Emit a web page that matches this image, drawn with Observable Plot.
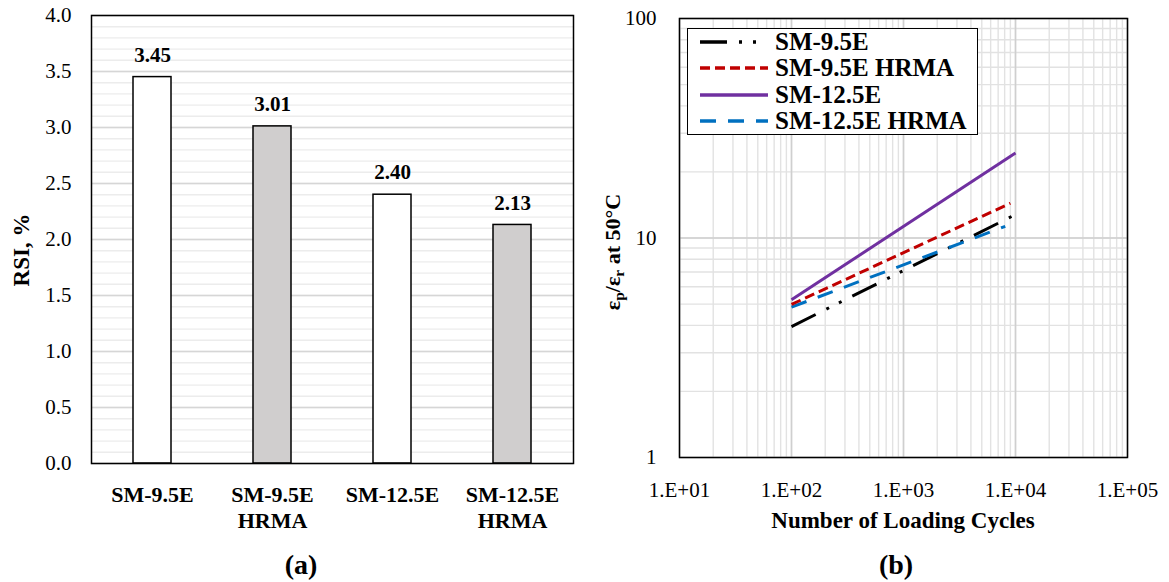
<!DOCTYPE html>
<html>
<head>
<meta charset="utf-8">
<script src="https://cdn.jsdelivr.net/npm/d3@7"></script>
<script src="https://cdn.jsdelivr.net/npm/@observablehq/plot@0.6"></script>
<style>
  body { margin: 0; background: #fff; font-family: "Liberation Serif", "Times New Roman", serif; }
  #wrap { position: relative; width: 1169px; height: 582px; overflow: hidden; background: #fff; }
  .abs { position: absolute; }
  .lbl { position: absolute; font-weight: bold; color: #000; white-space: nowrap; transform: translate(-50%, -50%); }
  .rot { transform: translate(-50%, -50%) rotate(-90deg); }
  #legend { position: absolute; left: 687px; top: 28px; width: 289px; height: 105px; border: 1.5px solid #000; background: #fff; }
  .row { position: absolute; left: 0; height: 26px; width: 289px; }
  .row svg { position: absolute; left: 12px; top: 0; }
  .row span { position: absolute; left: 87px; top: 0; line-height: 26px; font-size: 25px; font-weight: bold; color: #000; white-space: nowrap; }
  sub { font-size: 0.7em; vertical-align: -0.25em; line-height: 0; }
</style>
</head>
<body>
<div id="wrap"></div>
<script>
// ---------- data: panel (a) ----------
const categories = ["SM-9.5E", "SM-9.5E HRMA", "SM-12.5E", "SM-12.5E HRMA"];
const rsiValues = [3.45, 3.01, 2.40, 2.13];
const rsiTicks = [0, 0.5, 1.0, 1.5, 2.0, 2.5, 3.0, 3.5, 4.0];

// ---------- data: panel (b) ----------
const seriesNames = ["SM-9.5E", "SM-9.5E HRMA", "SM-12.5E", "SM-12.5E HRMA"];
const cyclesStart = [100, 100, 100, 100];
const cyclesEnd = [9600, 9000, 10000, 8100];
const ratioStart = [3.95, 4.98, 5.23, 4.84];
const ratioEnd = [12.66, 14.4, 24.4, 11.3];
const cycleTicks = [10, 100, 1000, 10000, 100000];
const ratioTicks = [1, 10, 100];

// ---------- styles ----------
const seriesStyle = {
  "SM-9.5E": { stroke: "#000000", dash: "27 12 3 11 3 12" },
  "SM-9.5E HRMA": { stroke: "#c00000", dash: "10 5" },
  "SM-12.5E": { stroke: "#7030a0", dash: null },
  "SM-12.5E HRMA": { stroke: "#0070c0", dash: "16 12" }
};
const font = "Liberation Serif";
const wrap = document.getElementById("wrap");

// ---------- panel (a) ----------
const barData = categories.map((c, i) => ({ cat: c, v: rsiValues[i] }));
const minorY = d3.range(0, 41).map(i => i / 10);

const left = Plot.plot({
  width: 580, height: 540,
  marginLeft: 91, marginRight: 7, marginTop: 15, marginBottom: 77,
  style: { fontFamily: font, fontSize: "21px", color: "#000", background: "transparent", overflow: "visible" },
  x: { domain: categories, paddingInner: 0.685, paddingOuter: 0.3425, label: null },
  y: { domain: [0, 4], label: null },
  color: { type: "identity" },
  marks: [
    Plot.ruleY(minorY, { stroke: "#ececec", strokeWidth: 1.4 }),
    Plot.ruleY(rsiTicks, { stroke: "#d6d6d6", strokeWidth: 1.6 }),
    Plot.barY(barData, {
      x: "cat", y: "v",
      fill: d => d.cat.includes("HRMA") ? "#d0cece" : "#ffffff",
      stroke: "#000", strokeWidth: 1.5
    }),
    Plot.text(barData, {
      x: "cat", y: "v", text: d => d.v.toFixed(2), dy: -22,
      fontWeight: "bold", fontSize: 21, fill: "#000"
    }),
    Plot.axisY({ ticks: rsiTicks, tickFormat: d3.format(".1f"), tickSize: 0, tickPadding: 20, fontSize: 21, label: null }),
    Plot.axisX({ tickSize: 0, tickPadding: 20, tickFormat: d => d.replace(" ", "\n"), fontWeight: "bold", fontSize: 22, lineHeight: 1.18, label: null }),
    Plot.frame({ stroke: "#000", strokeWidth: 1.5 })
  ]
});
left.style.position = "absolute";
left.style.left = "0px";
left.style.top = "0px";
wrap.appendChild(left);

// ---------- panel (b) ----------
const minorX = [];
[10, 100, 1000, 10000].forEach(dec => { for (let k = 1; k <= 9; k++) minorX.push(k * dec); });
minorX.push(100000);
const minorRY = [];
[1, 10].forEach(dec => { for (let k = 1; k <= 9; k++) minorRY.push(k * dec); });
minorRY.push(100);

const lineMarks = seriesNames.map((s, i) => {
  const pts = [{ x: cyclesStart[i], y: ratioStart[i] }, { x: cyclesEnd[i], y: ratioEnd[i] }];
  const st = seriesStyle[s];
  const opts = { x: "x", y: "y", stroke: st.stroke, strokeWidth: 3, strokeLinecap: "butt" };
  if (st.dash) opts.strokeDasharray = st.dash;
  return Plot.line(pts, opts);
});
// draw order: black, blue, red, purple
const order = [0, 3, 1, 2];

const right = Plot.plot({
  width: 589, height: 540,
  marginLeft: 99, marginRight: 42, marginTop: 18, marginBottom: 83,
  style: { fontFamily: font, fontSize: "21px", color: "#000", background: "transparent", overflow: "visible" },
  x: { type: "log", domain: [10, 100000], label: null },
  y: { type: "log", domain: [1, 100], label: null },
  marks: [
    Plot.ruleX(minorX, { stroke: "#e2e2e2", strokeWidth: 1.4 }),
    Plot.ruleY(minorRY, { stroke: "#e2e2e2", strokeWidth: 1.4 }),
    Plot.ruleX(cycleTicks, { stroke: "#cfcfcf", strokeWidth: 1.6 }),
    Plot.ruleY(ratioTicks, { stroke: "#cfcfcf", strokeWidth: 1.6 }),
    ...order.map(i => lineMarks[i]),
    Plot.axisX({ ticks: cycleTicks, tickFormat: d => "1.E+" + String(Math.round(Math.log10(d))).padStart(2, "0"), tickSize: 0, tickPadding: 25, fontSize: 21, label: null }),
    Plot.axisY({ ticks: ratioTicks, tickFormat: d3.format("d"), tickSize: 0, tickPadding: 23, fontSize: 21, label: null }),
    Plot.frame({ stroke: "#000", strokeWidth: 1.5 })
  ]
});
right.style.position = "absolute";
right.style.left = "580px";
right.style.top = "0px";
wrap.appendChild(right);

// ---------- legend ----------
const legend = document.createElement("div");
legend.id = "legend";
seriesNames.forEach((s, i) => {
  const st = seriesStyle[s];
  const row = document.createElement("div");
  row.className = "row";
  row.style.top = (i * 26.4) + "px";
  row.innerHTML =
    `<svg width="70" height="26"><line x1="0" x2="68" y1="13" y2="13" stroke="${st.stroke}" stroke-width="3.5"` +
    (st.dash ? ` stroke-dasharray="${st.dash}"` : "") + `/></svg><span>${s}</span>`;
  legend.appendChild(row);
});
wrap.appendChild(legend);

// ---------- axis labels and captions ----------
function addLabel(html, x, y, size, rotate) {
  const d = document.createElement("div");
  d.className = "lbl" + (rotate ? " rot" : "");
  d.style.left = x + "px";
  d.style.top = y + "px";
  d.style.fontSize = size + "px";
  d.innerHTML = html;
  wrap.appendChild(d);
}
addLabel("RSI, %", 22, 250, 23, true);
addLabel("ε<sub>p</sub>/ε<sub>r</sub> at 50°C", 613, 252, 22, true);
addLabel("Number of Loading Cycles", 903, 521, 23, false);
addLabel("(a)", 301, 565, 28, false);
addLabel("(b)", 896, 565, 28, false);
</script>
</body>
</html>
